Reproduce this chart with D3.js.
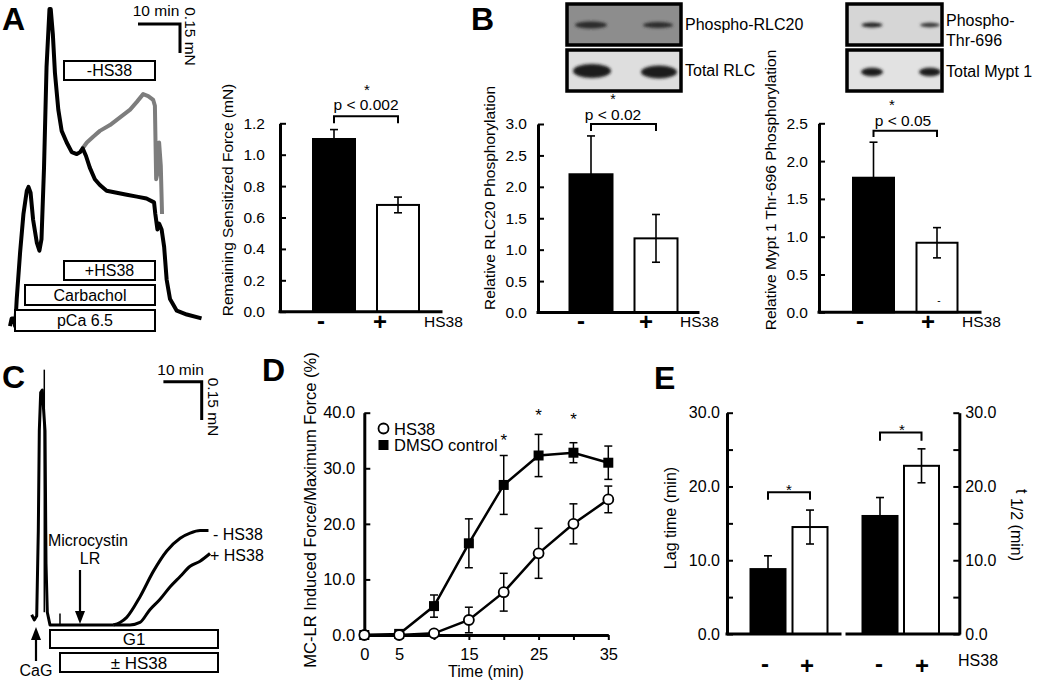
<!DOCTYPE html>
<html><head><meta charset="utf-8">
<script src="https://cdn.jsdelivr.net/npm/d3@7"></script>
<style>body{margin:0;background:#fff} svg{display:block}</style>
</head><body><svg id="c" width="1050" height="683"></svg>
<script>
// ---------- DATA ----------
const groups = ["-", "+"];
const forceMean = [1.10, 0.68], forceErr = [0.06, 0.05];
const rlcMean = [2.20, 1.18], rlcErr = [0.61, 0.38];
const myptMean = [1.78, 0.92], myptErr = [0.47, 0.20];
const lagMean = [8.8, 14.5], lagErr = [1.8, 2.3];
const halfMean = [16.0, 22.8], halfErr = [2.5, 2.3];

const dTimes = [0, 5, 10, 15, 20, 25, 30, 35];
const hs38Force = [0, 0, 0.3, 2.7, 7.7, 14.7, 20.0, 24.4];
const hs38Err = [0, 0, 0, 2.3, 3.4, 4.5, 3.6, 2.4];
const dmsoForce = [0, 0.2, 5.2, 16.5, 27.0, 32.3, 32.8, 31.0];
const dmsoErr = [0, 0, 2.0, 4.4, 5.3, 3.8, 1.8, 3.0];
const sigTimes = [20, 25, 30];
const sigLevels = [35.4, 39.9, 39.2];
const dTickLabels = [0, 5, 15, 25, 35];

// force traces [time (min), force (mN)]
const traceA_black = [[0,0.02],[0.4,0.06],[1.0,0.06],[1.2,0.02],[1.4,0.08],[1.6,0.16],[2.4,0.40],[3.2,0.60],[4.0,0.72],[4.4,0.74],[4.9,0.71],[5.5,0.57],[6.4,0.45],[7.0,0.41],[7.5,0.47],[8.1,0.84],[8.7,1.36],[9.4,1.66],[9.7,1.66],[10.2,1.53],[10.7,1.33],[11.5,1.14],[12.3,1.03],[13.5,0.97],[14.7,0.92],[15.9,0.91],[16.7,0.92],[17.3,0.94],[18.1,0.90],[19.0,0.84],[20.2,0.78],[21.4,0.75],[23.0,0.72],[25.4,0.71],[27.8,0.70],[30.2,0.69],[32.5,0.68],[34.3,0.66],[34.6,0.60],[35.1,0.52],[35.5,0.55],[36.1,0.52],[36.7,0.43],[37.3,0.26],[38.1,0.16],[39.7,0.10],[42.1,0.08],[45.6,0.06]];
const traceA_gray = [[17.3,0.94],[18.3,0.97],[19.8,1.00],[21.4,1.03],[23.8,1.06],[26.2,1.10],[28.6,1.14],[30.2,1.18],[31.7,1.22],[32.9,1.21],[34.1,1.19],[34.5,1.16],[34.8,0.78],[35.1,0.81],[35.5,0.97],[35.9,0.85],[36.2,0.60]];
const traceC_base = [[0.44,0.04],[1.12,0.02],[1.75,0.035],[2.17,0.37],[2.43,0.76],[2.79,0.91],[3.21,0.92],[3.92,0.76],[4.18,0.24],[4.52,0.05],[5.22,0.0],[7.83,0],[13.05,0],[21.75,0]];
const traceC_minus = [[21.75,0],[23.5,0.01],[25.25,0.03],[28.7,0.11],[32.2,0.21],[35.7,0.29],[39.2,0.34],[41.8,0.36],[44.4,0.37],[46.6,0.37]];
const traceC_plus = [[21.75,0],[26.1,0],[28.7,0.01],[31.3,0.06],[33.9,0.10],[36.6,0.15],[39.2,0.19],[41.8,0.23],[44.4,0.25],[47.0,0.28]];

// ---------- DRAW ----------
const FONT = '"Liberation Sans", Arial, Helvetica, sans-serif';
const svg = d3.select("#c").attr("font-family", FONT);

function txt(x, y, s, o = {}) {
  const t = svg.append("text").attr("x", x).attr("y", y).text(s)
    .attr("font-size", o.fs || 15).attr("fill", "#000")
    .attr("text-anchor", o.anchor || "start");
  if (o.bold) t.attr("font-weight", "bold");
  if (o.rot) t.attr("transform", `rotate(${o.rot},${x},${y})`);
  return t;
}
function box(x1, y1, x2, y2, label, fs) {
  svg.append("rect").attr("x", x1).attr("y", y1).attr("width", x2 - x1).attr("height", y2 - y1)
    .attr("fill", "#fff").attr("stroke", "#000").attr("stroke-width", 2);
  txt((x1 + x2) / 2, (y1 + y2) / 2 + fs * 0.36, label, { fs, anchor: "middle" });
}
function styleAxis(a, fs) {
  a.attr("font-family", null).attr("font-size", null);
  a.select(".domain").attr("stroke-width", 3);
  a.selectAll(".tick line").attr("stroke-width", 2);
  a.selectAll(".tick text").attr("font-size", fs).attr("font-family", FONT).attr("fill", "#000");
}
function yAxis(scale, x, vals, fmt, side, pad, fs = 15.5) {
  const ax = (side === "right" ? d3.axisRight(scale) : d3.axisLeft(scale))
    .tickValues(vals).tickFormat(fmt).tickSizeInner(-6).tickSizeOuter(0).tickPadding(pad);
  const a = svg.append("g").attr("transform", `translate(${x},0)`).call(ax);
  styleAxis(a, fs);
  return a;
}
function hline(x1, x2, y, w = 3) {
  svg.append("line").attr("x1", x1).attr("x2", x2).attr("y1", y).attr("y2", y)
    .attr("stroke", "#000").attr("stroke-width", w).attr("stroke-linecap", "square");
}
function errBar(x, yTop, yBot, cap = 4, w = 1.6) {
  svg.append("line").attr("x1", x).attr("x2", x).attr("y1", yTop).attr("y2", yBot).attr("stroke", "#000").attr("stroke-width", w);
  [yTop, yBot].forEach(yy => svg.append("line").attr("x1", x - cap).attr("x2", x + cap).attr("y1", yy).attr("y2", yy).attr("stroke", "#000").attr("stroke-width", w));
}
function bars(y, centers, width, means, errs) {
  means.forEach((m, i) => {
    const fill = i % 2 === 0 ? "#000" : "#fff";
    svg.append("rect").attr("x", centers[i] - width / 2).attr("y", y(m))
      .attr("width", width).attr("height", y(0) - y(m))
      .attr("fill", fill).attr("stroke", "#000").attr("stroke-width", 2);
    errBar(centers[i], y(m + errs[i]), y(m - errs[i]));
  });
}
function bracket(x1, x2, yTop, yEnd) {
  svg.append("path").attr("d", `M${x1},${yEnd}V${yTop}H${x2}V${yEnd}`)
    .attr("fill", "none").attr("stroke", "#000").attr("stroke-width", 2);
}

// ===== Panel A trace =====
txt(2, 30, "A", { fs: 32, bold: true });
const xTA = d3.scaleLinear().domain([0, 10]).range([10, 52]);
const yTA = d3.scaleLinear().domain([0, 0.15]).range([330, 301]);
const lineA = d3.line().x(d => xTA(d[0])).y(d => yTA(d[1]));
svg.append("path").attr("d", lineA(traceA_gray)).attr("fill", "none").attr("stroke", "#7d7d7d").attr("stroke-width", 4).attr("stroke-linejoin", "round");
svg.append("path").attr("d", lineA(traceA_black)).attr("fill", "none").attr("stroke", "#000").attr("stroke-width", 4).attr("stroke-linejoin", "round");
box(64, 61, 155, 80, "-HS38", 16);
box(64, 261, 155, 280, "+HS38", 16);
box(25, 285, 155, 305, "Carbachol", 16);
box(15, 310, 155, 331, "pCa 6.5", 16);
{
  const sx = 180, sy = 24, lw = xTA(10) - xTA(0), lh = yTA(0) - yTA(0.15);
  svg.append("path").attr("d", `M${sx - lw},${sy}H${sx}V${sy + lh}`).attr("fill", "none").attr("stroke", "#000").attr("stroke-width", 3);
  txt(sx - lw / 2 - 3, sy - 8, "10 min", { fs: 15.5, anchor: "middle" });
  txt(185, sy + lh / 2 - 2, "0.15 mN", { fs: 15.5, anchor: "middle", rot: 90 });
}

// ===== Panel A bars =====
{
  const y = d3.scaleLinear().domain([0, 1.2]).range([311.7, 123.3]);
  const c = d3.scalePoint().domain(groups).range([334, 398]);
  const centers = groups.map(c);
  bars(y, centers, 42, forceMean, forceErr);
  yAxis(y, 280, [0, 0.2, 0.4, 0.6, 0.8, 1.0, 1.2], d3.format(".1f"), "left", 15);
  hline(280, 441, y(0));
  bracket(centers[0], centers[1], y(1.245), y(1.2));
  txt(366, 110, "p < 0.002", { fs: 15.5, anchor: "middle" });
  txt(367, 95, "*", { fs: 15, anchor: "middle" });
  txt(233, 200, "Remaining Sensitized Force (mN)", { fs: 15.5, anchor: "middle", rot: -90 });
  txt(321, 329, "-", { fs: 24, bold: true, anchor: "middle" });
  txt(380, 330, "+", { fs: 24, bold: true, anchor: "middle" });
  txt(424, 327, "HS38", { fs: 15.5 });
}

// ===== Panel B =====
txt(471, 30, "B", { fs: 32, bold: true });
const defs = svg.append("defs");
defs.append("filter").attr("id", "blur").attr("x", "-50%").attr("y", "-100%").attr("width", "200%").attr("height", "300%")
  .append("feGaussianBlur").attr("stdDeviation", 1.6);
function blot(x1, y1, x2, y2, fill, bands) {
  svg.append("rect").attr("x", x1).attr("y", y1).attr("width", x2 - x1).attr("height", y2 - y1)
    .attr("fill", fill).attr("stroke", "#000").attr("stroke-width", 3.5);
  bands.forEach(b => svg.append("ellipse").attr("cx", b[0]).attr("cy", b[1]).attr("rx", b[2]).attr("ry", b[3])
    .attr("fill", b[4] || "#1a1a1a").attr("filter", "url(#blur)"));
}
blot(567, 4, 681, 45, "#8d8d8d", [[591, 25, 16, 3.5, "#2a2a2a"], [658, 25, 15, 3, "#2a2a2a"]]);
blot(567, 50, 681, 91, "#dedede", [[592, 71, 19, 7], [659, 72, 18, 6.5]]);
txt(685, 30, "Phospho-RLC20", { fs: 16 });
txt(685, 76, "Total RLC", { fs: 16 });
blot(847, 4, 942, 45, "#d6d6d6", [[872, 25, 10.5, 2.6, "#222"], [930, 25, 10, 2.2, "#333"]]);
blot(847, 50, 942, 91, "#e2e2e2", [[872, 72, 11, 4.2], [930, 72, 11, 4.2]]);
txt(946, 26, "Phospho-", { fs: 16 });
txt(946, 46, "Thr-696", { fs: 16 });
txt(946, 77, "Total Mypt 1", { fs: 16 });

{
  const y = d3.scaleLinear().domain([0, 3.0]).range([312.5, 124]);
  const c = d3.scalePoint().domain(groups).range([591, 656]);
  const centers = groups.map(c);
  bars(y, centers, 43, rlcMean, rlcErr);
  yAxis(y, 538, [0, 0.5, 1.0, 1.5, 2.0, 2.5, 3.0], d3.format(".1f"), "left", 11);
  hline(538, 698, y(0));
  bracket(centers[0], centers[1], y(3.0), y(2.89));
  txt(613, 120, "p < 0.02", { fs: 15.5, anchor: "middle" });
  txt(613, 104, "*", { fs: 14, anchor: "middle" });
  txt(495, 198, "Relative RLC20 Phosphorylation", { fs: 15.5, anchor: "middle", rot: -90 });
  txt(581, 329, "-", { fs: 24, bold: true, anchor: "middle" });
  txt(646, 330, "+", { fs: 24, bold: true, anchor: "middle" });
  txt(680, 327, "HS38", { fs: 15.5 });
}
{
  const y = d3.scaleLinear().domain([0, 2.5]).range([312.3, 123.3]);
  const c = d3.scalePoint().domain(groups).range([873.5, 937]);
  const centers = groups.map(c);
  bars(y, centers, 41, myptMean, myptErr);
  yAxis(y, 819, [0, 0.5, 1.0, 1.5, 2.0, 2.5], d3.format(".1f"), "left", 11);
  hline(819, 980, y(0));
  bracket(centers[0], centers[1], y(2.40), y(2.32));
  txt(903, 126, "p < 0.05", { fs: 15.5, anchor: "middle" });
  txt(892, 110, "*", { fs: 15, anchor: "middle" });
  txt(776, 190, "Relative Mypt 1 Thr-696 Phosphorylation", { fs: 15.5, anchor: "middle", rot: -90 });
  txt(860, 329, "-", { fs: 24, bold: true, anchor: "middle" });
  txt(928, 330, "+", { fs: 24, bold: true, anchor: "middle" });
  txt(939, 304, "-", { fs: 10, anchor: "middle" });
  txt(962, 327, "HS38", { fs: 15.5 });
}

// ===== Panel C =====
txt(2, 388, "C", { fs: 32, bold: true });
{
  const xT = d3.scaleLinear().domain([0, 10]).range([30, 68.3]);
  const yT = d3.scaleLinear().domain([0, 0.15]).range([625, 586.7]);
  const line = d3.line().x(d => xT(d[0])).y(d => yT(d[1])).curve(d3.curveMonotoneX);
  const lineL = d3.line().x(d => xT(d[0])).y(d => yT(d[1]));
  svg.append("path").attr("d", lineL(traceC_base)).attr("fill", "none").attr("stroke", "#000").attr("stroke-width", 3).attr("stroke-linejoin", "round");
  svg.append("path").attr("d", line(traceC_minus)).attr("fill", "none").attr("stroke", "#000").attr("stroke-width", 3);
  svg.append("path").attr("d", line(traceC_plus)).attr("fill", "none").attr("stroke", "#000").attr("stroke-width", 3);
  svg.append("line").attr("x1", xT(3.73)).attr("x2", xT(3.73)).attr("y1", yT(1.0)).attr("y2", yT(0.05)).attr("stroke", "#000").attr("stroke-width", 1.5);
  svg.append("line").attr("x1", xT(7.83)).attr("x2", xT(7.83)).attr("y1", yT(0.045)).attr("y2", yT(0)).attr("stroke", "#000").attr("stroke-width", 1.5);
  const sx = 201.7, sy = 381.7, lw = xT(10) - xT(0), lh = yT(0) - yT(0.15);
  svg.append("path").attr("d", `M${sx - lw},${sy}H${sx}V${sy + lh}`).attr("fill", "none").attr("stroke", "#000").attr("stroke-width", 3);
  txt(sx - lw / 2 - 2, sy - 7, "10 min", { fs: 15.5, anchor: "middle" });
  txt(208, 407, "0.15 mN", { fs: 15.5, anchor: "middle", rot: 90 });
  txt(213, 540, "- HS38", { fs: 16 });
  txt(210, 561, "+ HS38", { fs: 16 });
}
box(50, 630, 218, 648, "G1", 17);
box(60, 653, 218, 672, "± HS38", 17);
txt(88, 546, "Microcystin", { fs: 16, anchor: "middle" });
txt(90, 564, "LR", { fs: 16, anchor: "middle" });
svg.append("line").attr("x1", 80).attr("x2", 80).attr("y1", 570).attr("y2", 614).attr("stroke", "#000").attr("stroke-width", 2.2);
svg.append("path").attr("d", "M75,611L80,624L85,611Z").attr("fill", "#000");
svg.append("line").attr("x1", 36).attr("x2", 36).attr("y1", 661).attr("y2", 637).attr("stroke", "#000").attr("stroke-width", 2.2);
svg.append("path").attr("d", "M31,640L36,627L41,640Z").attr("fill", "#000");
txt(36, 676, "CaG", { fs: 16, anchor: "middle" });

// ===== Panel D =====
txt(262, 381, "D", { fs: 32, bold: true });
{
  const FS = 16.5;
  const x = d3.scaleLinear().domain([0, 35]).range([364.3, 608.3]);
  const y = d3.scaleLinear().domain([0, 40]).range([635, 412.7]);
  yAxis(y, 364.3, [0, 10, 20, 30, 40], d3.format(".1f"), "left", 9, FS);
  const xa = svg.append("g").attr("transform", `translate(0,${y(0)})`)
    .call(d3.axisBottom(x).tickValues(dTimes).tickFormat(d => dTickLabels.includes(d) ? d : "").tickSizeInner(5).tickSizeOuter(0).tickPadding(8));
  styleAxis(xa, FS);
  const line = d3.line().x((d, i) => x(dTimes[i])).y(d => y(d));
  svg.append("path").attr("d", line(dmsoForce)).attr("fill", "none").attr("stroke", "#000").attr("stroke-width", 2.5);
  svg.append("path").attr("d", line(hs38Force)).attr("fill", "none").attr("stroke", "#000").attr("stroke-width", 2.5);
  dTimes.forEach((t, i) => {
    if (dmsoErr[i] > 0) errBar(x(t), y(dmsoForce[i] + dmsoErr[i]), y(dmsoForce[i] - dmsoErr[i]), 4, 1.5);
    if (hs38Err[i] > 0) errBar(x(t), y(hs38Force[i] + hs38Err[i]), y(hs38Force[i] - hs38Err[i]), 4, 1.5);
  });
  dTimes.forEach((t, i) => {
    svg.append("rect").attr("x", x(t) - 5).attr("y", y(dmsoForce[i]) - 5).attr("width", 10).attr("height", 10).attr("fill", "#000");
  });
  dTimes.forEach((t, i) => {
    svg.append("circle").attr("cx", x(t)).attr("cy", y(hs38Force[i])).attr("r", 5).attr("fill", "#fff").attr("stroke", "#000").attr("stroke-width", 1.8);
  });
  sigTimes.forEach((t, i) => txt(x(t), y(sigLevels[i]) + 8, "*", { fs: 17, anchor: "middle" }));
  svg.append("circle").attr("cx", 383.5).attr("cy", 428.5).attr("r", 5).attr("fill", "#fff").attr("stroke", "#000").attr("stroke-width", 1.8);
  txt(394, 434.5, "HS38", { fs: FS });
  svg.append("rect").attr("x", 378.5).attr("y", 440).attr("width", 10).attr("height", 10).attr("fill", "#000");
  txt(394, 451, "DMSO control", { fs: FS });
  txt(316, 510, "MC-LR Induced Force/Maximum Force (%)", { fs: FS, anchor: "middle", rot: -90 });
  txt(486, 677, "Time (min)", { fs: 16, anchor: "middle" });
}

// ===== Panel E =====
txt(654, 389, "E", { fs: 32, bold: true });
{
  const FS = 16;
  const y = d3.scaleLinear().domain([0, 30]).range([634, 412.7]);
  const fmt = d => d % 10 === 0 ? d3.format(".1f")(d) : "";
  const ticks = [0, 5, 10, 15, 20, 25, 30];
  const cL = d3.scalePoint().domain(groups).range([768, 810]);
  const cR = d3.scalePoint().domain(groups).range([880, 921.5]);
  bars(y, groups.map(cL), 35, lagMean, lagErr);
  bars(y, groups.map(cR), 35, halfMean, halfErr);
  yAxis(y, 727, ticks, fmt, "left", 7, FS);
  yAxis(y, 959.3, ticks, fmt, "right", 6, FS);
  hline(727, 840, y(0));
  hline(847, 959, y(0));
  bracket(cL("-"), cL("+"), y(19.2), y(18.2));
  bracket(cR("-"), cR("+"), y(27.3), y(26.2));
  txt(789, 495, "*", { fs: 15, anchor: "middle" });
  txt(902, 435, "*", { fs: 15, anchor: "middle" });
  txt(676, 518, "Lag time (min)", { fs: FS, anchor: "middle", rot: -90 });
  const t = svg.append("text").attr("x", 1012).attr("y", 525).attr("font-size", FS).attr("text-anchor", "middle")
    .attr("transform", "rotate(90,1012,525)");
  t.append("tspan").attr("dy", -4).text("t ");
  t.append("tspan").attr("dy", 5).text("1/2 (min)");
  [[765, "-"], [807, "+"], [879, "-"], [922, "+"]].forEach(d =>
    txt(d[0], d[1] === "-" ? 672 : 674, d[1], { fs: 24, bold: true, anchor: "middle" }));
  txt(958, 666, "HS38", { fs: FS });
}
</script>
</body></html>
